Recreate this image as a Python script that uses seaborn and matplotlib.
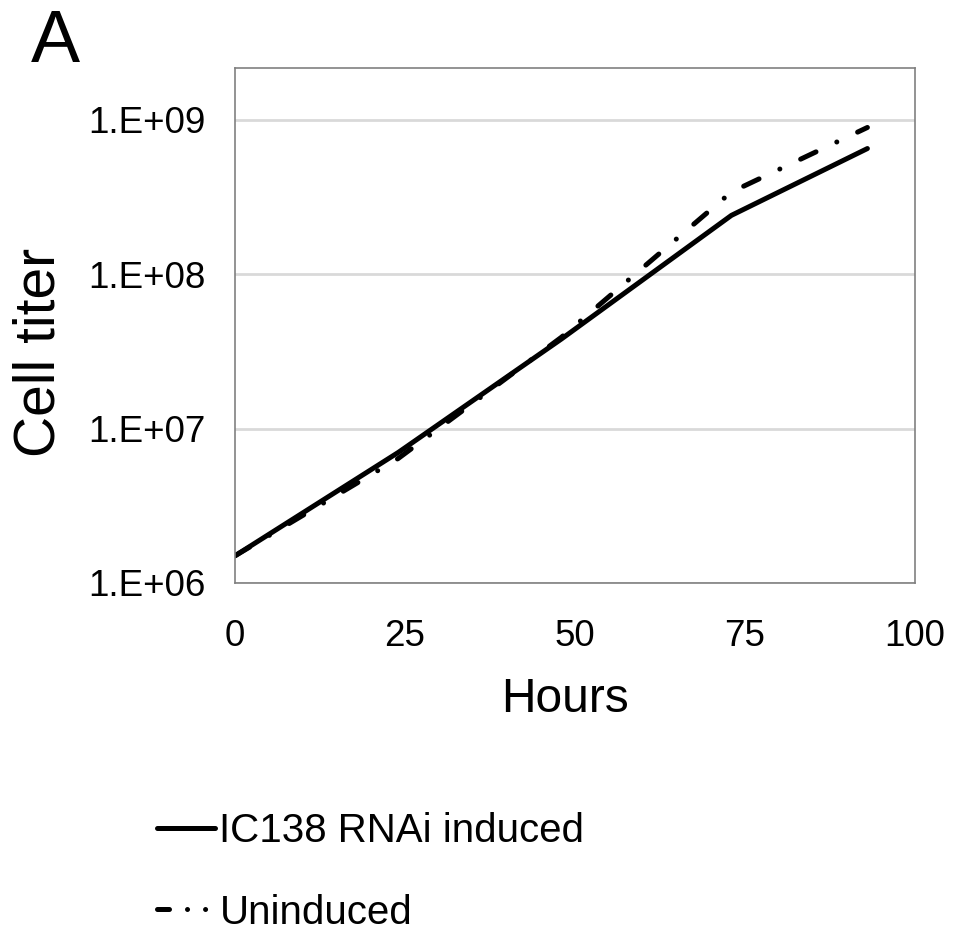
import matplotlib
matplotlib.use('Agg')
import matplotlib.pyplot as plt
import matplotlib.ticker as mticker
import numpy as np
import pandas as pd
import seaborn as sns

# values
hours = [0, 24, 48, 73, 93]
induced = [1.5e6, 7.0e6, 3.8e7, 2.4e8, 6.5e8]
uninduced = [1.5e6, 6.4e6, 3.9e7, 3.4e8, 8.9e8]
labels = ['IC138 RNAi induced', 'Uninduced']
y_ticks = [1e6, 1e7, 1e8, 1e9]
y_ticklabels = ['1.E+06', '1.E+07', '1.E+08', '1.E+09']
x_ticks = [0, 25, 50, 75, 100]

data = pd.DataFrame({'Hours': hours + hours,
                     'Cell titer': induced + uninduced,
                     'Condition': [labels[0]] * len(hours) + [labels[1]] * len(hours)})

sns.set_style('white')
plt.rcParams['font.family'] = ['Liberation Sans', 'DejaVu Sans']
plt.rcParams.update({'text.color': 'black', 'axes.labelcolor': 'black',
                     'xtick.color': 'black', 'ytick.color': 'black'})

fig = plt.figure(figsize=(9.66, 9.3), dpi=100)
ax = fig.add_axes([235 / 966, 1 - 583 / 930, 680 / 966, 515 / 930])

sns.lineplot(data=data, x='Hours', y='Cell titer', hue='Condition',
             style='Condition', palette=['black', 'black'],
             dashes={labels[0]: '', labels[1]: (3.4, 4.6, 0.01, 4.6)},
             linewidth=3.6, dash_capstyle='round', solid_capstyle='round',
             ax=ax)

ax.set_yscale('log')
ax.set_ylim(1e6, 2.16e9)
ax.set_xlim(0, 100)
ax.yaxis.set_major_locator(mticker.FixedLocator(y_ticks))
ax.yaxis.set_minor_locator(mticker.NullLocator())
ax.set_yticklabels(y_ticklabels)
ax.set_xticks(x_ticks)

ax.grid(axis='y', color='#d9d9d9', linewidth=2)
ax.grid(axis='x', visible=False)
for sp in ax.spines.values():
    sp.set_color('#808080')
    sp.set_linewidth(1.2)
ax.tick_params(axis='both', length=0, labelsize=26.5)
ax.tick_params(axis='y', pad=21)
ax.tick_params(axis='x', pad=26)

ax.set_xlabel('Hours', fontsize=34.5)
ax.xaxis.label.set_va('center')
ax.xaxis.set_label_coords((565 - 235) / 680, (583 - 699) / 515)
ax.set_ylabel('Cell titer', fontsize=41)
ax.yaxis.label.set_va('center')
ax.yaxis.set_label_coords((40 - 235) / 680, (583 - 352) / 515)

fig.text(55 / 966, 1 - 42 / 930, 'A', fontsize=53, ha='center', va='center')

handles, lbls = ax.get_legend_handles_labels()
leg = ax.legend(handles, lbls, loc='upper left',
                bbox_to_anchor=(157 / 966, 1 - 812 / 930),
                bbox_transform=fig.transFigure, frameon=False, fontsize=29,
                handlelength=1.45, handletextpad=0.1, labelspacing=1.08,
                borderpad=0, borderaxespad=0)
# legend sample of the dashed series shows a dash followed by two dots
leg.get_lines()[1].set_dashes((2.4, 3.6, 0.01, 3.6, 0.01, 3.6))

fig.savefig('out.png', dpi=100)
